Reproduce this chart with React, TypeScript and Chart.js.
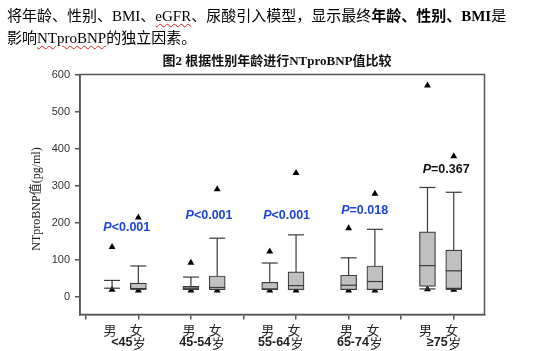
import React, { useEffect, useRef } from "react";
import { Chart, registerables } from "chart.js";

Chart.register(...registerables);

// ---- data ----
const sexLabels = ["男", "女"];
const ageGroups = ["<45", "45-54", "55-64", "65-74", "≥75"];
const ageUnit = "岁";
const xPositions = [1, 2, 4, 5, 7, 8, 10, 11, 13, 14];
const whiskerLow = [23, 20, 19, 19, 19, 19, 19, 19, 21, 20];
const q1 = [23, 21, 19, 19, 19, 19, 19, 19, 28, 22];
const median = [23, 22, 23, 25, 21, 30, 31, 41, 84, 70];
const q3 = [23, 37, 28, 56, 39, 67, 58, 83, 175, 126];
const whiskerHigh = [44, 83, 53, 158, 91, 167, 105, 182, 295, 282];
const outlierHigh = [134, 214, 92, 290, 122, 334, 185, 278, 570, 379];
const outlierLow = [19, 17, 17, 17, 17, 17, 17, 17, 20, 19];
const pLabels = ["P<0.001", "P<0.001", "P<0.001", "P=0.018", "P=0.367"];
const pX = [1.56, 4.69, 7.64, 10.61, 13.71];
const pY = [186, 219, 219, 233, 343];
const pSignificant = [true, true, true, true, false];
const yTicks = [0, 100, 200, 300, 400, 500, 600];
const xTicks = [0, 2, 4, 6, 8, 10, 12, 14];
const chartTitle = "图2 根据性别年龄进行NTproBNP值比较";
const yTitle = "NTproBNP值(pg/ml)";

const BOX_W = 16;
const LINE = "#3a3a3a";
const AXIS = "#555555";

const extras = {
  id: "boxExtras",
  afterDatasetsDraw(chart: any) {
    const { ctx, scales } = chart;
    const x = scales.x;
    const y = scales.y;
    const half = BOX_W / 2;
    ctx.save();
    ctx.strokeStyle = LINE;
    ctx.lineWidth = 1.2;
    const line = (x1: number, y1: number, x2: number, y2: number) => {
      ctx.beginPath();
      ctx.moveTo(x1, y1);
      ctx.lineTo(x2, y2);
      ctx.stroke();
    };
    for (let i = 0; i < xPositions.length; i++) {
      const cx = x.getPixelForValue(xPositions[i]);
      const yq3 = y.getPixelForValue(q3[i]);
      const yh = y.getPixelForValue(whiskerHigh[i]);
      line(cx, yq3, cx, yh);
      line(cx - half, yh, cx + half, yh);
      const yq1 = y.getPixelForValue(q1[i]);
      const yl = y.getPixelForValue(whiskerLow[i]);
      if (whiskerLow[i] < q1[i]) {
        line(cx, yq1, cx, yl);
        line(cx - half, yl, cx + half, yl);
      }
      const ym = y.getPixelForValue(median[i]);
      line(cx - half, ym, cx + half, ym);
    }
    ctx.restore();
  },
  afterDraw(chart: any) {
    const { ctx, scales, chartArea } = chart;
    const x = scales.x;
    const y = scales.y;
    ctx.save();
    // frame
    ctx.strokeStyle = AXIS;
    ctx.lineWidth = 1.5;
    ctx.strokeRect(
      chartArea.left,
      chartArea.top,
      chartArea.right - chartArea.left,
      chartArea.bottom - chartArea.top
    );
    // title
    ctx.fillStyle = "#111";
    ctx.textAlign = "center";
    ctx.textBaseline = "middle";
    ctx.font = "bold 13px 'Liberation Serif', 'Noto Sans CJK SC'";
    ctx.fillText(chartTitle, 277, 62);
    // y title
    ctx.save();
    ctx.translate(37, 199);
    ctx.rotate(-Math.PI / 2);
    ctx.font = "12px 'Liberation Serif', 'Noto Sans CJK SC'";
    ctx.fillStyle = "#222";
    ctx.fillText(yTitle, 0, 0);
    ctx.restore();
    // p labels
    for (let i = 0; i < pLabels.length; i++) {
      const cx = x.getPixelForValue(pX[i]);
      const cy = y.getPixelForValue(pY[i]);
      const head = pLabels[i].slice(0, 1);
      const rest = pLabels[i].slice(1);
      const fHead = "italic bold 12.5px 'Liberation Sans', Arial";
      const fRest = "bold 12.5px 'Liberation Sans', Arial";
      ctx.font = fHead;
      const wH = ctx.measureText(head).width;
      ctx.font = fRest;
      const wR = ctx.measureText(rest).width;
      const x0 = cx - (wH + wR) / 2;
      ctx.textAlign = "left";
      ctx.fillStyle = pSignificant[i] ? "#1c44d8" : "#111";
      ctx.font = fHead;
      ctx.fillText(head, x0, cy);
      ctx.font = fRest;
      ctx.fillText(rest, x0 + wH, cy);
    }
    // x labels
    ctx.fillStyle = "#222";
    for (let g = 0; g < ageGroups.length; g++) {
      const mx = x.getPixelForValue(xPositions[2 * g]);
      const fx = x.getPixelForValue(xPositions[2 * g + 1]);
      ctx.textAlign = "center";
      ctx.font = "13px 'Noto Sans CJK SC'";
      ctx.fillText(sexLabels[0], mx - 2, 330.5);
      ctx.fillText(sexLabels[1], fx - 2, 330.5);
      ctx.fillText(ageUnit, fx + 1, 343);
      ctx.textAlign = "right";
      ctx.font = "bold 12.5px 'Liberation Sans', Arial";
      ctx.fillText(ageGroups[g], fx - 6, 343);
    }
    ctx.restore();
  },
};

export default function App() {
  const ref = useRef<HTMLCanvasElement | null>(null);
  useEffect(() => {
    if (!ref.current) return;
    const boxData = xPositions.map((p, i) => ({ x: p, y: [q1[i], q3[i]] }));
    const highData = xPositions.map((p, i) => ({ x: p, y: outlierHigh[i] }));
    const lowData = xPositions.map((p, i) => ({ x: p, y: outlierLow[i] }));
    const chart = new Chart(ref.current, {
      type: "bar",
      data: {
        datasets: [
          {
            type: "scatter",
            data: highData,
            pointStyle: "triangle",
            radius: 4,
            backgroundColor: "#000",
            borderWidth: 0,
            order: 1,
          } as any,
          {
            type: "bar",
            data: boxData as any,
            backgroundColor: "#c0c0c0",
            borderColor: LINE,
            borderWidth: 1.2,
            borderSkipped: false,
            barThickness: BOX_W,
            order: 2,
          } as any,
          {
            type: "scatter",
            data: lowData,
            pointStyle: "triangle",
            radius: 4,
            backgroundColor: "#000",
            borderWidth: 0,
            order: 3,
          } as any,
        ],
      },
      options: {
        animation: false,
        responsive: false,
        events: [],
        layout: { padding: { left: 0, top: 74.5, right: 57.5, bottom: 0 } },
        plugins: { legend: { display: false }, tooltip: { enabled: false }, title: { display: false } },
        scales: {
          x: {
            type: "linear",
            offset: false,
            min: -0.22,
            max: 15.17,
            afterBuildTicks: (s: any) => {
              s.ticks = xTicks.map((v) => ({ value: v }));
            },
            afterFit: (s: any) => {
              s.height = 36.5;
            },
            ticks: { display: false },
            grid: { offset: false, drawOnChartArea: false, drawTicks: true, tickLength: 5, color: AXIS, lineWidth: 1.5 },
            border: { display: true, color: AXIS, width: 1.5 },
          },
          y: {
            type: "linear",
            min: -48,
            max: 600,
            afterBuildTicks: (s: any) => {
              s.ticks = yTicks.map((v) => ({ value: v }));
            },
            afterFit: (s: any) => {
              s.width = 80;
            },
            ticks: { font: { family: "'Liberation Sans', Arial", size: 11 }, color: "#333", padding: 5 },
            grid: { drawOnChartArea: false, drawTicks: true, tickLength: 5, color: AXIS, lineWidth: 1.5 },
            border: { display: true, color: AXIS, width: 1.5 },
          },
        },
      } as any,
      plugins: [extras],
    });
    return () => chart.destroy();
  }, []);

  const wavy: React.CSSProperties = {
    textDecoration: "underline wavy #e02020",
    textDecorationThickness: "1px",
    textUnderlineOffset: "2px",
  };

  return (
    <div style={{ position: "absolute", left: 0, top: 0, width: 542, height: 351, background: "#fff" }}>
      <canvas ref={ref} width={542} height={351} style={{ position: "absolute", left: 0, top: 0, width: 542, height: 351 }} />
      <div
        style={{
          position: "absolute",
          left: 7,
          top: 5,
          fontSize: 15,
          lineHeight: "22px",
          fontFamily: "'Liberation Serif', 'Noto Sans CJK SC'",
          color: "#000",
          whiteSpace: "nowrap",
        }}
      >
        <div>
          将年龄、性别、BMI、<span style={wavy}>eGFR</span>、尿酸引入模型，显示最终<b>年龄、性别、BMI</b>是
        </div>
        <div>
          影响<span style={wavy}>NTproBNP</span>的独立因素。
        </div>
      </div>
    </div>
  );
}
